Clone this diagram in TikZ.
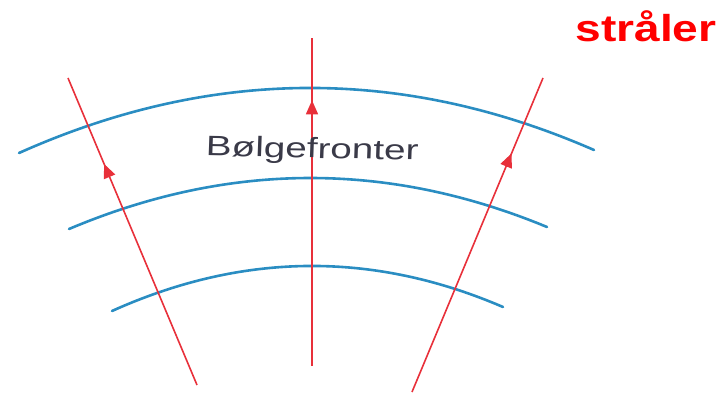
\documentclass[tikz,border=0pt]{standalone}
\usepackage{fontspec}
\setmainfont{Liberation Sans}
\usetikzlibrary{arrows.meta,decorations.markings}
\definecolor{ray}{HTML}{E8303A}
\definecolor{front}{HTML}{2A8DC2}
\definecolor{lbl}{HTML}{3A3A48}
\tikzset{
  wave/.style={draw=front, line width=2.6pt, line cap=round},
  raybase/.style={draw=ray, line width=1.6pt},
  rayarrow/.style={raybase, postaction={decorate}, decoration={markings,
     mark=at position #1 with {\arrow{Triangle[length=14pt,width=12pt]}}}},
}
\begin{document}
\begin{tikzpicture}[x=1pt,y=-1pt]
\useasboundingbox (0,0) rectangle (721,396);
% wavefronts
\coordinate (t1) at (19,153);  \coordinate (t2) at (594,150);
\coordinate (m1) at (69,229);  \coordinate (m2) at (547,227);
\coordinate (b1) at (112,311); \coordinate (b2) at (503,307);
\draw[wave] (t1) .. controls (210.7,67.3) and (402.3,66.3) .. (t2);
\draw[wave] (m1) .. controls (228.3,161.7) and (387.7,161) .. (m2);
\draw[wave] (b1) .. controls (242.3,252.3) and (372.7,251) .. (b2);
% rays
\coordinate (l0) at (197,385); \coordinate (l1) at (68,78);
\coordinate (c0) at (312,366); \coordinate (c1) at (312,38);
\coordinate (r0) at (412,392); \coordinate (r1) at (543,78);
\draw[rayarrow=0.72] (l0) -- (l1);
\draw[rayarrow=0.81] (c0) -- (c1);
\draw[rayarrow=0.76] (r0) -- (r1);
% labels
\node[anchor=base, text=lbl, font=\fontsize{28}{30}\selectfont, xscale=1.38, rotate=-1.5, inner sep=0pt] (bf) at (312,158) {Bølgefronter};
\node[anchor=base, text=red, font=\fontsize{37.5}{40}\selectfont\bfseries, xscale=1.23, inner sep=0pt] (st) at (646,42) {stråler};
\end{tikzpicture}
\end{document}
